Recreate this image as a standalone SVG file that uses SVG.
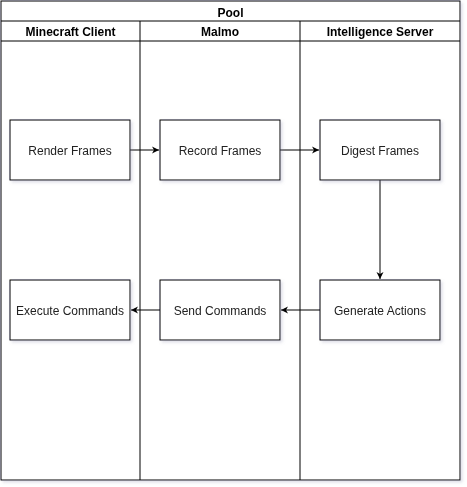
<svg xmlns="http://www.w3.org/2000/svg" width="467" height="487" viewBox="0 0 467 487">
<style>
.ln{fill:none;stroke:#000;stroke-width:1}
.bx{fill:#fff;stroke:#000;stroke-width:1}
.t{font-family:"Liberation Sans",Arial,sans-serif;font-size:12px;fill:#222;text-anchor:middle;dominant-baseline:central}
.h{font-weight:bold;fill:#000}
.c{fill:none;stroke:#000;stroke-width:1}
</style>
<defs>
<marker id="ah" markerWidth="8" markerHeight="8" refX="7" refY="4" orient="auto" markerUnits="userSpaceOnUse">
<path d="M0,0.5 L7,4 L0,7.5 L2,4 Z" fill="#000"/>
</marker>
<filter id="sh" x="-5%" y="-5%" width="115%" height="115%">
<feDropShadow dx="2" dy="2" stdDeviation="1.5" flood-color="#8080a0" flood-opacity="0.25"/>
</filter>
</defs>
<rect width="467" height="487" fill="#fff"/>
<g id="pool" filter="url(#sh)">
<rect class="bx" x="1" y="1" width="459" height="479"/>
<line class="ln" x1="1" y1="21" x2="460" y2="21"/>
<line class="ln" x1="1" y1="41" x2="460" y2="41"/>
<line class="ln" x1="140" y1="21" x2="140" y2="480"/>
<line class="ln" x1="300" y1="21" x2="300" y2="480"/>
<text class="t h" x="230.5" y="12.5">Pool</text>
<text class="t h" x="70.5" y="32">Minecraft Client</text>
<text class="t h" x="220" y="32">Malmo</text>
<text class="t h" x="380" y="32">Intelligence Server</text>
</g>
<g id="connectors">
<line class="c" x1="130" y1="150" x2="159" y2="150" marker-end="url(#ah)"/>
<line class="c" x1="280" y1="150" x2="319" y2="150" marker-end="url(#ah)"/>
<line class="c" x1="380" y1="180" x2="380" y2="279" marker-end="url(#ah)"/>
<line class="c" x1="320" y1="310" x2="281" y2="310" marker-end="url(#ah)"/>
<line class="c" x1="160" y1="310" x2="131" y2="310" marker-end="url(#ah)"/>
</g>
<g id="render-frames" filter="url(#sh)">
<rect class="bx" x="10" y="120" width="120" height="60"/>
<text class="t" x="70" y="151">Render Frames</text>
</g>
<g id="record-frames" filter="url(#sh)">
<rect class="bx" x="160" y="120" width="120" height="60"/>
<text class="t" x="220" y="151">Record Frames</text>
</g>
<g id="digest-frames" filter="url(#sh)">
<rect class="bx" x="320" y="120" width="120" height="60"/>
<text class="t" x="380" y="151">Digest Frames</text>
</g>
<g id="execute-commands" filter="url(#sh)">
<rect class="bx" x="10" y="280" width="120" height="60"/>
<text class="t" x="70" y="311">Execute Commands</text>
</g>
<g id="send-commands" filter="url(#sh)">
<rect class="bx" x="160" y="280" width="120" height="60"/>
<text class="t" x="220" y="311">Send Commands</text>
</g>
<g id="generate-actions" filter="url(#sh)">
<rect class="bx" x="320" y="280" width="120" height="60"/>
<text class="t" x="380" y="311">Generate Actions</text>
</g>
</svg>
